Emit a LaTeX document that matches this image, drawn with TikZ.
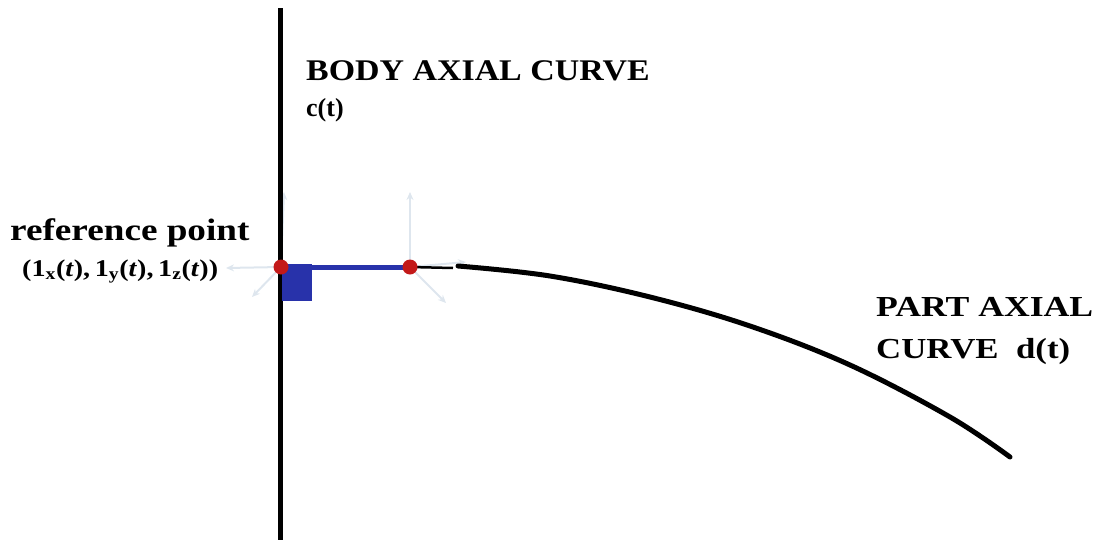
\documentclass[tikz,border=0pt]{standalone}
\usepackage{fontspec}
\setmainfont{Liberation Serif}
\usetikzlibrary{arrows.meta}
\begin{document}
\begin{tikzpicture}[x=1pt,y=-1pt,
  axisline/.style={line width=5pt,black},
  linkline/.style={line width=5pt,color={rgb,255:red,40;green,50;blue,170}},
  joint/.style={circle,fill={rgb,255:red,195;green,25;blue,25},inner sep=0pt,minimum size=15pt},
  faint/.style={line width=2pt,color={rgb,255:red,222;green,230;blue,238},-{Stealth[length=8pt,width=7pt]}},
  lbl/.style={inner sep=0pt,anchor=base west,font=\bfseries}]
\useasboundingbox (0,0) rectangle (1101,544);
% faint local frames
\coordinate (o1) at (281,267);
\coordinate (o2) at (410,267);
\draw[faint] (o1) -- (284,192);
\draw[faint] (o1) -- (226,268);
\draw[faint] (o1) -- (252,297);
\draw[faint] (o2) -- (410,192);
\draw[faint] (o2) -- (466,262);
\draw[faint] (o2) -- (446,303);
% body axial curve
\coordinate (ctop) at (280,8);
\coordinate (cbot) at (280,540);
\draw[axisline] (ctop) -- (cbot);
% link
\fill[color={rgb,255:red,40;green,50;blue,170}] (282,264) rectangle (312,301);
\draw[linkline] (o1) -- (o2);
% part axial curve
\coordinate (d0) at (458,266);
\coordinate (dend) at (1010,457);
\draw[line width=2.5pt] (o2) -- (453,268);
\draw[line width=5pt,line cap=round] plot[smooth,tension=0.6] coordinates
  {(d0) (550,276) (650,297) (750,326) (850,365) (950,417) (dend)};
\node[joint] (p1) at (o1) {};
\node[joint] (p2) at (o2) {};
% labels
\node[lbl] (body) at (306,80) {\scalebox{1.13}[1]{\fontsize{30}{30}\selectfont BODY AXIAL CURVE}};
\node[lbl] (ct) at (306,116) {\fontsize{26}{26}\selectfont c(t)};
\node[lbl] (ref) at (10,240) {\scalebox{1.2}[1]{\fontsize{31}{31}\selectfont reference point}};
\node[lbl] (coord) at (22,276) {\scalebox{1.17}[1]{\fontsize{24}{24}\selectfont (1$_{\mathbf{x}}$(\textit{t}),\,1$_{\mathbf{y}}$(\textit{t}),\,1$_{\mathbf{z}}$(\textit{t}))}};
\node[lbl] (part) at (876,316) {\scalebox{1.23}[1]{\fontsize{29}{29}\selectfont PART AXIAL}};
\node[lbl] (curve) at (876,358) {\scalebox{1.2}[1]{\fontsize{29}{29}\selectfont CURVE\ \ d(t)}};
\end{tikzpicture}
\end{document}
